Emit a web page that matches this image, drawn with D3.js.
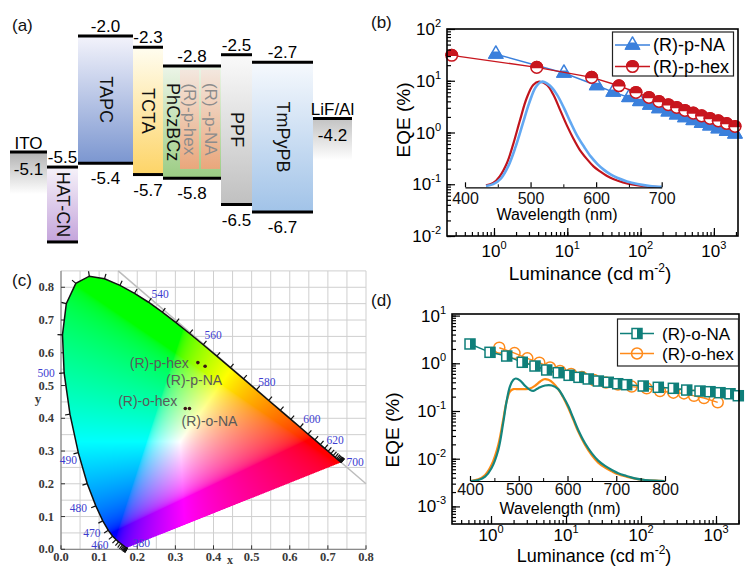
<!DOCTYPE html>
<html>
<head>
<meta charset="utf-8">
<script src="https://cdn.jsdelivr.net/npm/d3@7/dist/d3.min.js"></script>
<style>
  html, body { margin: 0; padding: 0; background: #fff; }
  svg { display: block; }
</style>
</head>
<body>
<svg id="fig" width="754" height="566" viewBox="0 0 754 566"></svg>
<script>
// ================= data =================
// (a) energy levels (eV)
const layerNames  = ["ITO", "HAT-CN", "TAPC", "TCTA", "PhCzBCz", "PPF", "TmPyPB", "LiF/Al"];
const layerUpper  = [-5.1, -5.5, -2.0, -2.3, -2.8, -2.5, -2.7, -4.2];
const layerLower  = [null, -7.5, -5.4, -5.7, -5.8, -6.5, -6.7, null];
const upperLabels = ["-5.1", "-5.5", "-2.0", "-2.3", "-2.8", "-2.5", "-2.7", "-4.2"];
const lowerLabels = ["", "", "-5.4", "-5.7", "-5.8", "-6.5", "-6.7", ""];
const dopantNames = ["(R)-p-hex", "(R) -p-NA"];
const dopantUpper = [-2.9, -2.9];
const dopantLower = [-5.55, -5.55];

// (b) EQE vs luminance, para isomers
const lumPNA  = [1.06, 9.0, 25.2, 42.4, 69.5, 98, 134, 178, 239, 311, 403, 524, 681, 885, 1149, 1496, 1941];
const eqePNA  = [32.8, 14.1, 8.1, 6.04, 4.75, 3.98, 3.39, 2.91, 2.51, 2.20, 1.95, 1.71, 1.52, 1.35, 1.19, 1.06, 0.94];
const lumPHex = [0.265, 3.83, 21.5, 50.7, 86.5, 130, 178, 239, 311, 403, 524, 681, 885, 1149, 1496, 1941];
const eqePHex = [31, 18.1, 11.6, 8.0, 5.94, 4.76, 3.98, 3.44, 3.05, 2.67, 2.37, 2.10, 1.87, 1.68, 1.49, 1.31];
// (b) inset EL spectra (normalised)
const wlPNA  = [432, 443, 455, 466, 477, 488, 498, 508, 517, 529, 540, 551, 561, 571, 582, 592, 602, 612, 622, 632, 647, 663, 682, 700];
const elPNA  = [0.012, 0.03, 0.085, 0.2, 0.38, 0.6, 0.8, 0.95, 1.0, 0.965, 0.88, 0.75, 0.615, 0.49, 0.38, 0.29, 0.22, 0.165, 0.122, 0.09, 0.056, 0.032, 0.013, 0.004];
const wlPHex = [432, 443, 453, 464, 474, 484, 494, 504, 513, 525, 535, 545, 555, 565, 575, 586, 596, 606, 616, 626, 641, 657, 677, 697];
const elPHex = [0.019, 0.041, 0.104, 0.23, 0.418, 0.638, 0.843, 0.969, 1.0, 0.969, 0.874, 0.733, 0.591, 0.465, 0.355, 0.267, 0.198, 0.151, 0.110, 0.079, 0.047, 0.025, 0.009, 0.003];

// (c) CIE 1931 spectral locus and device colour coordinates
const locusWl = [380,385,390,395,400,405,410,415,420,425,430,435,440,445,450,455,460,465,470,475,480,485,490,495,500,505,510,515,520,525,530,535,540,545,550,555,560,565,570,575,580,585,590,595,600,605,610,615,620,625,630,635,640,645,650,655,660,665,670,675,680,685,690,695,700];
const locusX = [0.1741,0.1740,0.1738,0.1736,0.1733,0.1730,0.1726,0.1721,0.1714,0.1703,0.1689,0.1669,0.1644,0.1611,0.1566,0.1510,0.1440,0.1355,0.1241,0.1096,0.0913,0.0687,0.0454,0.0235,0.0082,0.0039,0.0139,0.0389,0.0743,0.1142,0.1547,0.1929,0.2296,0.2658,0.3016,0.3373,0.3731,0.4087,0.4441,0.4788,0.5125,0.5448,0.5752,0.6029,0.6270,0.6482,0.6658,0.6801,0.6915,0.7006,0.7079,0.7140,0.7190,0.7230,0.7260,0.7283,0.7300,0.7311,0.7320,0.7327,0.7334,0.7340,0.7344,0.7346,0.7347];
const locusY = [0.0050,0.0050,0.0049,0.0049,0.0048,0.0048,0.0048,0.0048,0.0051,0.0058,0.0069,0.0086,0.0109,0.0138,0.0177,0.0227,0.0297,0.0399,0.0578,0.0868,0.1327,0.2007,0.2950,0.4127,0.5384,0.6548,0.7502,0.8120,0.8338,0.8262,0.8059,0.7816,0.7543,0.7243,0.6923,0.6589,0.6245,0.5896,0.5547,0.5202,0.4866,0.4544,0.4242,0.3965,0.3725,0.3514,0.3340,0.3197,0.3083,0.2993,0.2920,0.2859,0.2809,0.2770,0.2740,0.2717,0.2700,0.2689,0.2680,0.2673,0.2666,0.2660,0.2656,0.2654,0.2653];
const locusLabels = [380, 460, 470, 480, 490, 500, 540, 560, 580, 600, 620, 700];
const cieNames = ["(R)-p-hex", "(R)-p-NA", "(R)-o-hex", "(R)-o-NA"];
const cieX = [0.359, 0.378, 0.326, 0.337];
const cieY = [0.570, 0.559, 0.430, 0.430];

// (d) EQE vs luminance, ortho isomers
const lumONA  = [0.525, 0.97, 1.62, 2.61, 3.86, 5.53, 7.89, 11.0, 14.9, 19.8, 27.0, 36.6, 48.9, 64.4, 107, 170, 270, 407, 612, 832, 1130, 1538, 1983];
const eqeONA  = [2.54, 1.70, 1.42, 1.05, 0.877, 0.724, 0.636, 0.56, 0.508, 0.469, 0.425, 0.40, 0.373, 0.356, 0.334, 0.314, 0.299, 0.275, 0.262, 0.254, 0.242, 0.23, 0.209];
const lumOHex = [1.29, 2.06, 3.05, 4.41, 6.12, 8.32, 11.7, 16.3, 23.6, 34.1, 49.3, 75.2, 119, 179, 270, 374, 509, 692, 1054];
const eqeOHex = [2.12, 1.64, 1.27, 1.03, 0.817, 0.69, 0.597, 0.516, 0.447, 0.396, 0.36, 0.325, 0.299, 0.262, 0.242, 0.234, 0.208, 0.187, 0.152];
// (d) inset EL spectra (normalised)
const wlONA  = [402,417,431,444,458,468,475,482,489,494,503,513,523,530,540,554,568,581,591,602,612,622,636,650,663,677,691,704,721,738,759,779,799];
const elONA  = [0,0.01,0.042,0.124,0.303,0.564,0.775,0.922,0.987,1.0,0.98,0.928,0.889,0.879,0.906,0.932,0.932,0.896,0.824,0.726,0.612,0.498,0.368,0.27,0.199,0.147,0.107,0.075,0.049,0.026,0.01,0.003,0];
const wlOHex = [402,417,431,444,458,468,475,482,489,499,513,523,533,544,552,561,571,581,591,602,612,622,636,650,663,677,691,704,721,738,759,779,799];
const elOHex = [0,0.016,0.059,0.156,0.352,0.596,0.775,0.873,0.896,0.896,0.896,0.902,0.928,0.971,0.993,0.987,0.954,0.896,0.818,0.71,0.596,0.482,0.352,0.251,0.179,0.13,0.094,0.065,0.042,0.023,0.01,0.003,0];

// ================= drawing =================
const FONT  = '"Liberation Sans", Arial, Helvetica, sans-serif';
const SERIF = '"Liberation Serif", "Times New Roman", serif';
const svg = d3.select("#fig").attr("font-family", FONT);
svg.append("rect").attr("width", 754).attr("height", 566).attr("fill", "#fff");
const defs = svg.append("defs");

function vGradient(id, c0, c1) {
  const g = defs.append("linearGradient").attr("id", id)
    .attr("x1", 0).attr("y1", 0).attr("x2", 0).attr("y2", 1);
  g.append("stop").attr("offset", "0%").attr("stop-color", c0);
  g.append("stop").attr("offset", "100%").attr("stop-color", c1);
  return `url(#${id})`;
}

function panelLabel(text, x, y) {
  svg.append("text").attr("x", x).attr("y", y).attr("font-size", 17).attr("fill", "#111").text(text);
}

// ---------- (a) ----------
(function drawLevels() {
  const g = svg.append("g");
  const yE = d3.scaleLinear().domain([-2.0, -6.7]).range([36, 212]);
  const layerWidth = [37, 31, 55, 30, 58, 31, 61, 39];
  const layerColors = [
    ["#b2b2b2", "#ffffff"], ["#f6f2f9", "#c4a4db"], ["#f3f3fb", "#7b96d0"], ["#fffdf0", "#fdd467"],
    ["#ecf5e8", "#9bcc83"], ["#fafafa", "#c0c0c0"], ["#f6f9fd", "#a1c3e8"], ["#c2c2c2", "#ffffff"]
  ];
  const fills = g.append("g"), lines = g.append("g"), texts = g.append("g");
  let xc = 10;
  const hostX = {};
  layerNames.forEach((name, i) => {
    const x0 = xc, w = layerWidth[i];
    xc += w;
    hostX[name] = x0;
    const top = yE(layerUpper[i]);
    const mid = x0 + w / 2;
    const fill = vGradient("lay" + i, layerColors[i][0], layerColors[i][1]);
    if (layerLower[i] === null) {
      fills.append("rect").attr("x", x0).attr("y", top).attr("width", w).attr("height", 42).attr("fill", fill);
      lines.append("line").attr("x1", x0).attr("x2", x0 + w).attr("y1", top).attr("y2", top)
        .attr("stroke", "#000").attr("stroke-width", 3);
      texts.append("text").attr("x", mid).attr("y", top - 3).attr("text-anchor", "middle")
        .attr("font-size", 17).text(name);
      texts.append("text").attr("x", mid).attr("y", top + 23).attr("text-anchor", "middle")
        .attr("font-size", 17).text(upperLabels[i]);
    } else {
      const bot = yE(layerLower[i]);
      fills.append("rect").attr("x", x0).attr("y", top).attr("width", w).attr("height", bot - top).attr("fill", fill);
      [top, bot].forEach(yv => lines.append("line").attr("x1", x0).attr("x2", x0 + w).attr("y1", yv).attr("y2", yv)
        .attr("stroke", "#000").attr("stroke-width", 3));
      texts.append("text").attr("x", mid).attr("y", top - 4).attr("text-anchor", "middle")
        .attr("font-size", 17).text(upperLabels[i]);
      if (lowerLabels[i]) {
        texts.append("text").attr("x", mid).attr("y", bot + 21).attr("text-anchor", "middle")
          .attr("font-size", 17).text(lowerLabels[i]);
      }
      const nx = name === "PhCzBCz" ? x0 + 9.5 : mid;
      texts.append("text").attr("transform", `translate(${nx},${(top + bot) / 2}) rotate(90)`)
        .attr("text-anchor", "middle").attr("dominant-baseline", "central")
        .attr("font-size", 18).attr("fill", "#111").text(name);
    }
  });
  // emitters doped into the PhCzBCz host
  const dFill = vGradient("dop", "#f4e6de", "#f1a27a");
  dopantNames.forEach((name, k) => {
    const x0 = hostX["PhCzBCz"] + 17 + k * 21, w = 19;
    const top = yE(dopantUpper[k]), bot = yE(dopantLower[k]);
    fills.append("rect").attr("x", x0).attr("y", top).attr("width", w).attr("height", bot - top)
      .attr("fill", dFill).attr("opacity", 0.9);
    texts.append("text").attr("transform", `translate(${x0 + w / 2},${(top + bot) / 2}) rotate(90)`)
      .attr("text-anchor", "middle").attr("dominant-baseline", "central")
      .attr("font-size", 17).attr("fill", "#8c8c8c").text(name);
  });
})();
panelLabel("(a)", 12, 31);

// ---------- shared helpers for log-log panels ----------
function isDecade(v) { const l = Math.log10(v); return Math.abs(l - Math.round(l)) < 1e-6; }
function cleanAxis(sel) {
  sel.select(".domain").remove();
  sel.selectAll(".tick line").attr("stroke", "#000").attr("stroke-width", 1.2);
}
function powText(sel, exp, supSize) {
  sel.append("tspan").text("10");
  sel.append("tspan").attr("dy", -8).attr("font-size", supSize).text(exp);
}
function logFrame(g, x, y, o) {
  const [x0, x1] = x.range(), [y0, y1] = y.range();
  const xt = x.ticks(), yt = y.ticks();
  const xm = xt.filter(isDecade), ym = yt.filter(isDecade);
  g.append("g").attr("transform", `translate(0,${y0})`)
    .call(d3.axisBottom(x).tickValues(xt).tickSize(-4).tickFormat("")).call(cleanAxis);
  g.append("g").attr("transform", `translate(0,${y0})`)
    .call(d3.axisBottom(x).tickValues(xm).tickSize(-8).tickFormat("")).call(cleanAxis);
  g.append("g").attr("transform", `translate(${x0},0)`)
    .call(d3.axisLeft(y).tickValues(yt).tickSize(-4).tickFormat("")).call(cleanAxis);
  g.append("g").attr("transform", `translate(${x0},0)`)
    .call(d3.axisLeft(y).tickValues(ym).tickSize(-8).tickFormat("")).call(cleanAxis);
  g.append("rect").attr("x", x0).attr("y", y1).attr("width", x1 - x0).attr("height", y0 - y1)
    .attr("fill", "none").attr("stroke", "#000").attr("stroke-width", 1.6);
  xm.forEach(v => {
    const t = g.append("text").attr("x", x(v)).attr("y", y0 + o.xLabelOffset)
      .attr("text-anchor", "middle").attr("font-size", 17);
    powText(t, String(Math.round(Math.log10(v))), 11);
  });
  ym.forEach(v => {
    const t = g.append("text").attr("x", x0 - 6).attr("y", y(v) + 6)
      .attr("text-anchor", "end").attr("font-size", 17);
    powText(t, String(Math.round(Math.log10(v))), 11);
  });
  const tt = g.append("text").attr("x", o.xTitle[0]).attr("y", o.xTitle[1])
    .attr("text-anchor", "middle").attr("font-size", o.titleSize);
  tt.append("tspan").text("Luminance (cd m");
  tt.append("tspan").attr("dy", -8).attr("font-size", 12).text("-2");
  tt.append("tspan").attr("dy", 8).text(")");
  g.append("text").attr("transform", `translate(${o.yTitle[0]},${o.yTitle[1]}) rotate(-90)`)
    .attr("text-anchor", "middle").attr("font-size", 19).text("EQE (%)");
}
function insetAxis(g, x, y, ticksMajor, ticksMinor, titleXY, pad) {
  const y0 = y.range()[0];
  g.append("g").attr("transform", `translate(0,${y0})`)
    .call(d3.axisBottom(x).tickValues(ticksMinor).tickSize(-3).tickSizeOuter(0).tickFormat(""))
    .call(s => s.selectAll("line").attr("stroke", "#000"))
    .call(s => s.select(".domain").attr("stroke", "#000").attr("stroke-width", 1.2));
  const ax = g.append("g").attr("transform", `translate(0,${y0})`)
    .call(d3.axisBottom(x).tickValues(ticksMajor).tickSize(-5).tickSizeOuter(0).tickPadding(pad));
  ax.select(".domain").remove();
  ax.selectAll("line").attr("stroke", "#000").attr("stroke-width", 1.2);
  ax.selectAll("text").attr("font-size", 16).attr("font-family", FONT).attr("fill", "#111");
  g.append("text").attr("x", titleXY[0]).attr("y", titleXY[1]).attr("text-anchor", "middle")
    .attr("font-size", 16).text("Wavelength (nm)");
}

// marker shapes
function halfCircle(sel, r, color) {
  sel.append("circle").attr("r", r).attr("fill", "#fff").attr("stroke", color).attr("stroke-width", 1.5);
  sel.append("path").attr("d", `M${-r},0A${r},${r} 0 0 1 ${r},0Z`).attr("fill", color)
    .attr("stroke", color).attr("stroke-width", 1.5);
}
function halfTriangle(sel, s, color) {
  const h = s * 0.866;
  sel.append("path").attr("d", `M0,${-2 * h / 3}L${s / 2},${h / 3}L${-s / 2},${h / 3}Z`)
    .attr("fill", "#fff").attr("stroke", color).attr("stroke-width", 1.5).attr("stroke-linejoin", "round");
  sel.append("path").attr("d", `M${-s / 2},${h / 3}L${s / 2},${h / 3}L${s / 4},${-h / 6}L${-s / 4},${-h / 6}Z`)
    .attr("fill", color).attr("stroke", color).attr("stroke-width", 1.2);
}
function halfSquare(sel, s, color) {
  sel.append("rect").attr("x", -s / 2).attr("y", -s / 2).attr("width", s).attr("height", s)
    .attr("fill", "#fff").attr("stroke", color).attr("stroke-width", 1.5);
  sel.append("rect").attr("x", 0).attr("y", -s / 2).attr("width", s / 2).attr("height", s)
    .attr("fill", color);
}
function openCircle(sel, r, color) {
  sel.append("circle").attr("r", r).attr("fill", "none").attr("stroke", color).attr("stroke-width", 1.5);
}
function series(g, x, y, xs, ys, color, marker) {
  const pts = xs.map((v, i) => [x(v), y(ys[i])]);
  g.append("path").attr("d", d3.line()(pts)).attr("fill", "none").attr("stroke", color).attr("stroke-width", 1.4);
  pts.forEach(p => { const m = g.append("g").attr("transform", `translate(${p[0]},${p[1]})`); marker(m, color); });
}
function spectrum(g, x, y, wl, el, color, width) {
  const pts = wl.map((v, i) => [x(v), y(el[i])]);
  g.append("path").attr("d", d3.line().curve(d3.curveCatmullRom)(pts))
    .attr("fill", "none").attr("stroke", color).attr("stroke-width", width).attr("stroke-linejoin", "round");
}
function legend(g, box, entries, fontSize) {
  g.append("rect").attr("x", box[0]).attr("y", box[1]).attr("width", box[2]).attr("height", box[3])
    .attr("fill", "#fff").attr("stroke", "#222").attr("stroke-width", 1.2);
  entries.forEach(e => {
    g.append("line").attr("x1", e.x0).attr("x2", e.x1).attr("y1", e.y).attr("y2", e.y)
      .attr("stroke", e.color).attr("stroke-width", 1.4);
    const m = g.append("g").attr("transform", `translate(${(e.x0 + e.x1) / 2},${e.y})`);
    e.marker(m, e.color);
    g.append("text").attr("x", e.tx).attr("y", e.y + 6).attr("font-size", fontSize).text(e.label);
  });
}

// ---------- (b) ----------
(function drawB() {
  const g = svg.append("g");
  const x = d3.scaleLog().domain([0.2285, 2133]).range([447, 738]);
  const y = d3.scaleLog().domain([0.01, 100]).range([236, 29]);
  const blue = "#3b80dc", red = "#c8161e";
  // inset spectra
  const xi = d3.scaleLinear().domain([400, 700]).range([465, 661.7]);
  const yi = d3.scaleLinear().domain([0, 1]).range([187.3, 81.7]);
  spectrum(g, xi, yi, wlPHex, elPHex, "#c0141c", 2.2);
  spectrum(g, xi, yi, wlPNA, elPNA, "#62a8f2", 2.6);
  insetAxis(g, xi, yi, [400, 500, 600, 700], [450, 550, 650], [557, 220], 5);
  // EQE curves
  series(g, x, y, lumPNA, eqePNA, blue, (m, c) => halfTriangle(m, 14, c));
  series(g, x, y, lumPHex, eqePHex, red, (m, c) => halfCircle(m, 5.8, c));
  logFrame(g, x, y, { xLabelOffset: 21, xTitle: [590, 280], yTitle: [410, 120], titleSize: 19 });
  legend(g, [612.5, 32, 121, 44], [
    { x0: 615, x1: 650, y: 45, color: blue, marker: (m, c) => halfTriangle(m, 14, c), tx: 653, label: "(R)-p-NA" },
    { x0: 615, x1: 650, y: 66.5, color: red, marker: (m, c) => halfCircle(m, 5.8, c), tx: 653, label: "(R)-p-hex" }
  ], 18);
})();
panelLabel("(b)", 371, 28);

// ---------- (c) ----------
(function drawC() {
  const g = svg.append("g");
  const x = d3.scaleLinear().domain([0, 0.8]).range([61, 366]);
  const y = d3.scaleLinear().domain([0, 0.85]).range([549.3, 270.9]);
  // grid
  x.ticks(16).forEach(v => g.append("line").attr("x1", x(v)).attr("x2", x(v)).attr("y1", y(0)).attr("y2", y(0.85))
    .attr("stroke", "#cfcfcf").attr("stroke-width", 1));
  y.ticks(17).forEach(v => g.append("line").attr("x1", x(0)).attr("x2", x(0.8)).attr("y1", y(v)).attr("y2", y(v))
    .attr("stroke", "#cfcfcf").attr("stroke-width", 1));
  // axes
  g.append("line").attr("x1", x(0)).attr("x2", x(0)).attr("y1", y(0)).attr("y2", y(0.85)).attr("stroke", "#777");
  g.append("line").attr("x1", x(0)).attr("x2", x(0.8)).attr("y1", y(0)).attr("y2", y(0)).attr("stroke", "#777");
  y.ticks(8).forEach(v => g.append("line").attr("x1", x(0)).attr("x2", x(0) + 4).attr("y1", y(v)).attr("y2", y(v)).attr("stroke", "#333"));
  x.ticks(8).forEach(v => g.append("line").attr("x1", x(v)).attr("x2", x(v)).attr("y1", y(0)).attr("y2", y(0) - 4).attr("stroke", "#333"));
  const f = d3.format(".1f");
  x.ticks(8).forEach(v => g.append("text").attr("x", x(v)).attr("y", 561).attr("text-anchor", "middle")
    .attr("font-family", SERIF).attr("font-size", 12.5).attr("font-weight", "bold").attr("fill", "#3a3a3a").text(f(v)));
  y.ticks(8).forEach(v => g.append("text").attr("x", 54).attr("y", y(v) + 4).attr("text-anchor", "end")
    .attr("font-family", SERIF).attr("font-size", 12.5).attr("font-weight", "bold").attr("fill", "#3a3a3a").text(f(v)));
  g.append("text").attr("x", 38).attr("y", 403).attr("text-anchor", "middle").attr("font-family", SERIF)
    .attr("font-size", 13).attr("font-weight", "bold").attr("fill", "#3a3a3a").text("y");
  g.append("text").attr("x", 230).attr("y", 564).attr("text-anchor", "middle").attr("font-family", SERIF)
    .attr("font-size", 12).attr("font-weight", "bold").attr("fill", "#3a3a3a").text("x");
  // x + y = 1 guide
  g.append("line").attr("x1", x(0.15)).attr("y1", y(0.85)).attr("x2", x(0.8)).attr("y2", y(0.2))
    .attr("stroke", "#bdbdbd").attr("stroke-width", 1.5);

  // colour-filled gamut rendered into a canvas
  const poly = locusX.map((v, i) => [x(v), y(locusY[i])]);
  const X0 = 58, Y0 = 268, W = 312, H = 286, S = 2;
  const canvas = document.createElement("canvas");
  canvas.width = W * S; canvas.height = H * S;
  const ctx = canvas.getContext("2d");
  const img = ctx.createImageData(W * S, H * S);
  const gam = c => c <= 0.0031308 ? 12.92 * c : 1.055 * Math.pow(c, 1 / 2.4) - 0.055;
  for (let j = 0; j < H * S; j++) {
    for (let i = 0; i < W * S; i++) {
      const px = X0 + (i + 0.5) / S, py = Y0 + (j + 0.5) / S;
      if (!d3.polygonContains(poly, [px, py])) continue;
      const cx = x.invert(px), cy = y.invert(py);
      const X = cx / cy, Y = 1, Z = (1 - cx - cy) / cy;
      let r = 3.2406 * X - 1.5372 * Y - 0.4986 * Z;
      let gg = -0.9689 * X + 1.8758 * Y + 0.0415 * Z;
      let b = 0.0557 * X - 0.2040 * Y + 1.0570 * Z;
      r = Math.max(r, 0); gg = Math.max(gg, 0); b = Math.max(b, 0);
      const m = Math.max(r, gg, b) || 1;
      const k = (j * W * S + i) * 4;
      img.data[k] = 255 * gam(r / m);
      img.data[k + 1] = 255 * gam(gg / m);
      img.data[k + 2] = 255 * gam(b / m);
      img.data[k + 3] = 255;
    }
  }
  ctx.putImageData(img, 0, 0);
  g.append("image").attr("x", X0).attr("y", Y0).attr("width", W).attr("height", H)
    .attr("href", canvas.toDataURL());

  // spectral locus outline, 5 nm ticks and wavelength labels
  g.append("path").attr("d", d3.line()(poly)).attr("fill", "none").attr("stroke", "#111").attr("stroke-width", 1.5);
  const white = [x(1 / 3), y(1 / 3)];
  function normalAt(i) {
    let k = 1, t = [0, 0];
    while (k < 20) {
      const a = poly[Math.max(i - k, 0)], b = poly[Math.min(i + k, poly.length - 1)];
      t = [b[0] - a[0], b[1] - a[1]];
      if (Math.hypot(t[0], t[1]) > 3) break;
      k++;
    }
    const L = Math.hypot(t[0], t[1]) || 1;
    let n = [t[1] / L, -t[0] / L];
    const p = poly[i];
    if (n[0] * (white[0] - p[0]) + n[1] * (white[1] - p[1]) > 0) n = [-n[0], -n[1]];
    return n;
  }
  poly.forEach((p, i) => {
    const n = normalAt(i);
    g.append("line").attr("x1", p[0]).attr("y1", p[1]).attr("x2", p[0] + n[0] * 5).attr("y2", p[1] + n[1] * 5)
      .attr("stroke", "#111").attr("stroke-width", 1.2);
  });
  // label offsets from the locus point (px)
  const labelOffset = {
    380: [14, -5], 460: [-16, 5], 470: [-16.5, 2.5], 480: [-17.5, 2.5], 490: [-10, 7], 500: [-18, 0.5],
    540: [11.5, -8.6], 560: [10, -9.5], 580: [10.4, -8], 600: [11.8, -8], 620: [10.5, -8.2], 700: [14, 0]
  };
  locusLabels.forEach(wl => {
    const i = locusWl.indexOf(wl), p = poly[i], o = labelOffset[wl];
    g.append("text").attr("x", p[0] + o[0]).attr("y", p[1] + o[1] + 4).attr("text-anchor", "middle")
      .attr("font-family", SERIF).attr("font-size", 11.5).attr("fill", "#3d3dd0").text(wl);
  });

  // device colour coordinates
  const place = {
    "(R)-p-hex": ["end", -9, 5], "(R)-p-NA": ["middle", -11, 19],
    "(R)-o-hex": ["end", -8, -2], "(R)-o-NA": ["start", -8, 18]
  };
  cieNames.forEach((name, i) => {
    const px = x(cieX[i]), py = y(cieY[i]);
    g.append("circle").attr("cx", px).attr("cy", py).attr("r", 1.8).attr("fill", "#3a1414");
    const pl = place[name];
    g.append("text").attr("x", px + pl[1]).attr("y", py + pl[2]).attr("text-anchor", pl[0])
      .attr("font-size", 14).attr("fill", "#5a5a5a").text(name);
  });
})();
panelLabel("(c)", 12, 286);

// ---------- (d) ----------
(function drawD() {
  const g = svg.append("g");
  const x = d3.scaleLog().domain([0.302, 2026]).range([452, 739]);
  const y = d3.scaleLog().domain([4.28e-4, 10.8]).range([524, 314]);
  const teal = "#0f7f7a", orange = "#ff8a1a";
  const xi = d3.scaleLinear().domain([400, 800]).range([470, 665]);
  const yi = d3.scaleLinear().domain([0, 1]).range([481, 378.5]);
  spectrum(g, xi, yi, wlOHex, elOHex, "#ff8a12", 2.2);
  spectrum(g, xi, yi, wlONA, elONA, "#14857f", 2.2);
  insetAxis(g, xi, yi, [400, 500, 600, 700, 800], [450, 550, 650, 750], [560, 514], 3);
  series(g, x, y, lumOHex, eqeOHex, orange, (m, c) => openCircle(m, 5.5, c));
  series(g, x, y, lumONA, eqeONA, teal, (m, c) => halfSquare(m, 10, c));
  logFrame(g, x, y, { xLabelOffset: 17, xTitle: [594, 562], yTitle: [399, 430], titleSize: 18 });
  legend(g, [617.5, 319, 121, 47], [
    { x0: 620, x1: 654, y: 333.5, color: teal, marker: (m, c) => halfSquare(m, 10, c), tx: 662, label: "(R)-o-NA" },
    { x0: 620, x1: 654, y: 353.5, color: orange, marker: (m, c) => openCircle(m, 5.5, c), tx: 662, label: "(R)-o-hex" }
  ], 17);
})();
panelLabel("(d)", 371, 306);
</script>
</body>
</html>
